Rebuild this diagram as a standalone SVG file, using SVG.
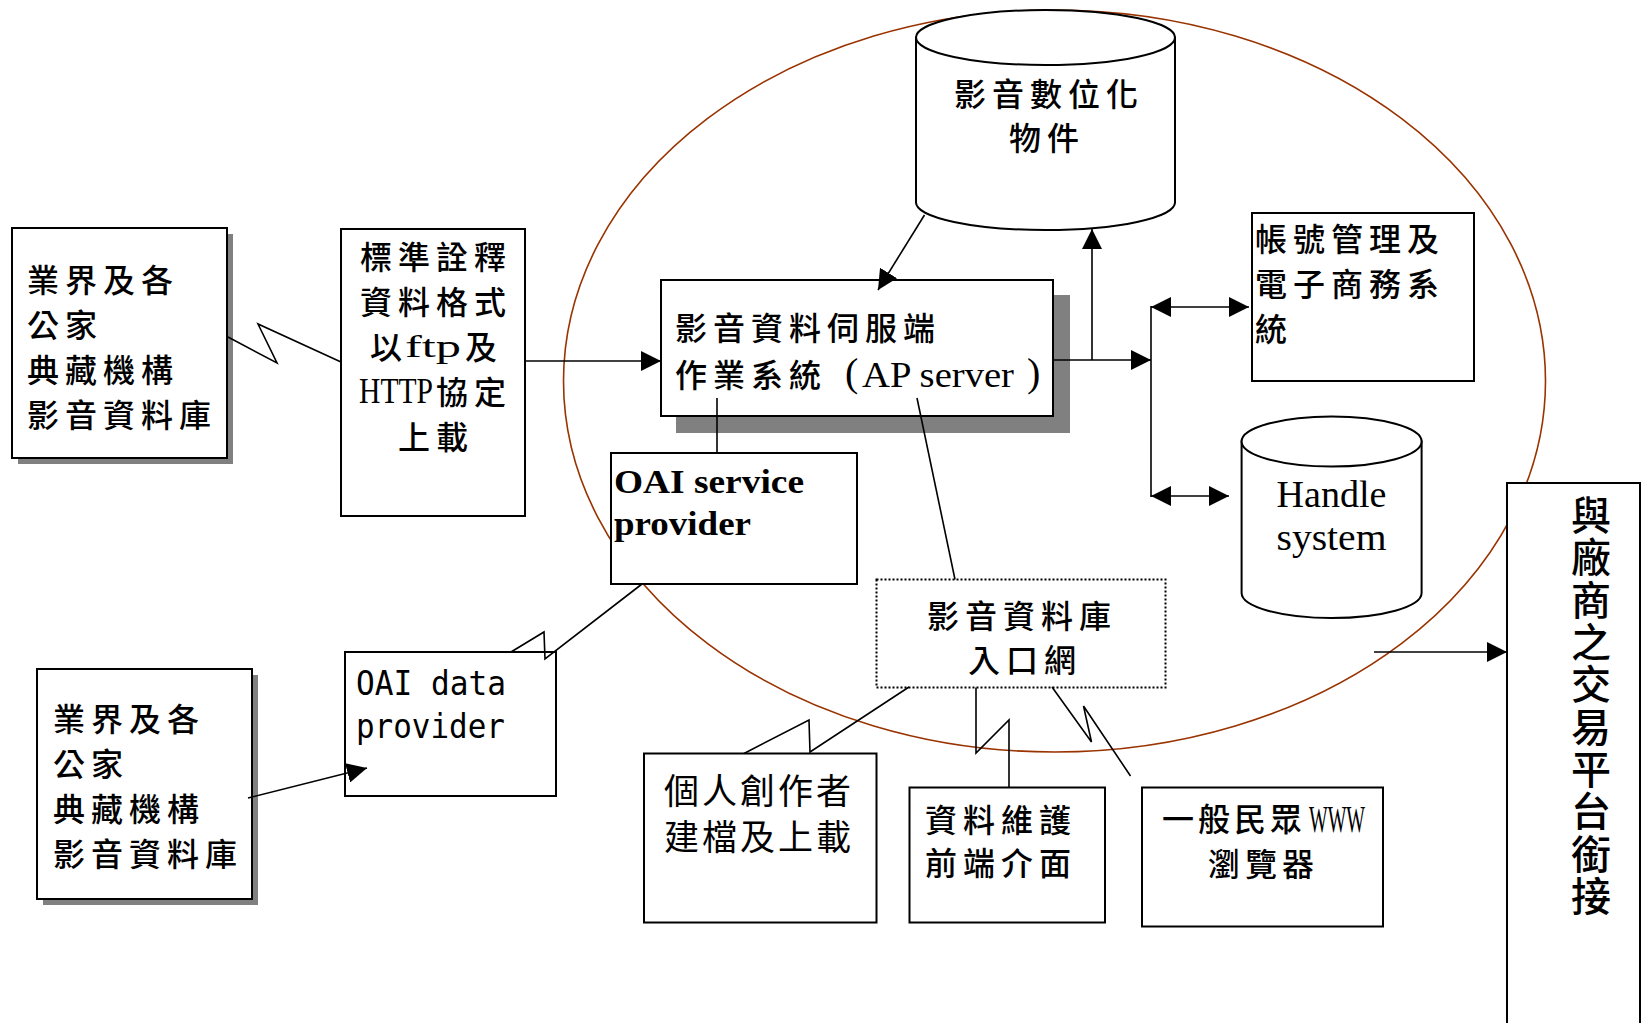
<svg xmlns="http://www.w3.org/2000/svg" width="1642" height="1023" viewBox="0 0 1642 1023">
<style>
.box{fill:#fff;stroke:#000;stroke-width:2}
.dot{fill:#fff;stroke:#000;stroke-width:2;stroke-dasharray:2 2}
.shadow{fill:#808080}
.ln{fill:none;stroke:#000;stroke-width:1.6}
.cj{font-family:"Noto Sans CJK TC","Noto Sans CJK SC",sans-serif;font-size:32px;font-weight:500;letter-spacing:6px;fill:#000}
.lat{font-family:"Liberation Serif",serif;fill:#000}
.mono{font-family:"DejaVu Sans Mono",monospace;fill:#000}
</style>
<defs>
<marker id="ah" viewBox="0 0 20 20" refX="20" refY="10" markerWidth="20" markerHeight="20" markerUnits="userSpaceOnUse" orient="auto-start-reverse"><path d="M0,0 L20,10 L0,20 z" fill="#000"/></marker>
</defs>
<rect width="1642" height="1023" fill="#fff"/>
<ellipse id="boundary" cx="1054.5" cy="381" rx="491" ry="371" fill="none" stroke="#993300" stroke-width="1.6"/>

<g id="inst-top">
<rect class="shadow" x="18" y="234" width="215" height="230"/>
<rect class="box" x="12" y="228" width="215" height="230"/>
<text class="cj" x="27" y="292">業界及各</text>
<text class="cj" x="27" y="337">公家</text>
<text class="cj" x="27" y="382">典藏機構</text>
<text class="cj" x="27" y="427">影音資料庫</text>
</g>

<g id="metadata-upload">
<rect class="box" x="341" y="229" width="184" height="287"/>
<text class="cj" x="436" y="269" text-anchor="middle">標準詮釋</text>
<text class="cj" x="436" y="314" text-anchor="middle">資料格式</text>
<text class="cj" x="370" y="359">以</text>
<text class="lat" x="405" y="357" font-size="32" textLength="56" lengthAdjust="spacingAndGlyphs">ftp</text>
<text class="cj" x="465" y="359">及</text>
<text class="lat" x="359" y="403" font-size="36" textLength="74" lengthAdjust="spacingAndGlyphs">HTTP</text>
<text class="cj" x="436" y="404">協定</text>
<text class="cj" x="436" y="449" text-anchor="middle">上載</text>
</g>

<g id="ap-server">
<rect class="shadow" x="676" y="295" width="394" height="138"/>
<rect class="box" x="661" y="280" width="392" height="136"/>
<text class="cj" x="675" y="340">影音資料伺服端</text>
<text class="cj" x="675" y="387">作業系統</text>
<text class="lat" x="845" y="386" font-size="40">(</text>
<text class="lat" x="862" y="387" font-size="36" textLength="152" lengthAdjust="spacingAndGlyphs">AP server</text>
<text class="lat" x="1027" y="386" font-size="40">)</text>
</g>

<g id="digital-objects">
<path class="box" d="M916,37.5 V202.5 A129.5,27.5 0 0 0 1175,202.5 V37.5 Z"/>
<ellipse class="box" cx="1045.5" cy="37.5" rx="129.5" ry="27.5"/>
<text class="cj" x="954" y="106">影音數位化</text>
<text class="cj" x="1009" y="150">物件</text>
</g>

<g id="account-ecommerce">
<rect class="box" x="1252" y="213" width="222" height="168"/>
<text class="cj" x="1255" y="251">帳號管理及</text>
<text class="cj" x="1255" y="296">電子商務系</text>
<text class="cj" x="1255" y="341">統</text>
</g>

<g id="handle-system">
<path class="box" d="M1241.6,441.5 V593 A90,25 0 0 0 1421.6,593 V441.5 Z"/>
<ellipse class="box" cx="1331.6" cy="441.5" rx="90" ry="25"/>
<text class="lat" x="1276.5" y="507" font-size="38" textLength="110" lengthAdjust="spacingAndGlyphs">Handle</text>
<text class="lat" x="1276.5" y="550" font-size="38" textLength="110" lengthAdjust="spacingAndGlyphs">system</text>
</g>

<g id="vendor-platform">
<rect class="box" x="1507" y="483" width="133" height="560"/>
<text class="cj" style="font-size:40px;letter-spacing:0" text-anchor="middle" x="1591 1591 1591 1591 1591 1591 1591 1591 1591 1591" y="530 572 615 657 699 742 784 826 869 911">與廠商之交易平台銜接</text>
</g>

<g id="oai-service-provider">
<rect class="box" x="611" y="453" width="246" height="131"/>
<text class="lat" x="614" y="493" font-size="34" font-weight="bold" textLength="190" lengthAdjust="spacingAndGlyphs">OAI service</text>
<text class="lat" x="614" y="535" font-size="34" font-weight="bold" textLength="137" lengthAdjust="spacingAndGlyphs">provider</text>
</g>

<g id="portal">
<rect class="dot" x="876.5" y="579.5" width="289" height="108"/>
<text class="cj" x="927" y="628">影音資料庫</text>
<text class="cj" x="968" y="672">入口網</text>
</g>

<g id="oai-data-provider">
<rect class="box" x="345" y="652" width="211" height="144"/>
<text class="mono" x="356" y="695" font-size="34" textLength="150" lengthAdjust="spacingAndGlyphs">OAI data</text>
<text class="mono" x="356" y="738" font-size="34" textLength="149" lengthAdjust="spacingAndGlyphs">provider</text>
</g>

<g id="inst-bottom">
<rect class="shadow" x="43" y="675" width="215" height="230"/>
<rect class="box" x="37" y="669" width="215" height="230"/>
<text class="cj" x="53" y="731">業界及各</text>
<text class="cj" x="53" y="776">公家</text>
<text class="cj" x="53" y="821">典藏機構</text>
<text class="cj" x="53" y="866">影音資料庫</text>
</g>

<g id="creator-upload">
<rect class="box" x="644" y="753.5" width="232.5" height="169"/>
<text class="cj" style="font-size:35px;letter-spacing:3px;font-weight:400" x="664" y="804">個人創作者</text>
<text class="cj" style="font-size:35px;letter-spacing:3px;font-weight:400" x="664" y="850">建檔及上載</text>
</g>

<g id="maintenance-ui">
<rect class="box" x="909.5" y="787.5" width="195.5" height="135"/>
<text class="cj" x="925" y="832">資料維護</text>
<text class="cj" x="925" y="875">前端介面</text>
</g>

<g id="www-browser">
<rect class="box" x="1142" y="787.5" width="241" height="139"/>
<text class="cj" style="letter-spacing:4px" x="1162" y="831">一般民眾</text>
<text class="lat" x="1309" y="832" font-size="38" textLength="56" lengthAdjust="spacingAndGlyphs">WWW</text>
<text class="cj" style="letter-spacing:5px" x="1208" y="876">瀏覽器</text>
</g>

<g id="connectors">
<polyline class="ln" points="228,337 277,363 258,324 341,362"/>
<line class="ln" x1="525" y1="361" x2="661" y2="361" marker-end="url(#ah)"/>
<line class="ln" x1="924.5" y1="215" x2="878" y2="290" marker-end="url(#ah)"/>
<line class="ln" x1="1053" y1="360" x2="1151" y2="360" marker-end="url(#ah)"/>
<line class="ln" x1="1092" y1="360" x2="1092" y2="229" marker-end="url(#ah)"/>
<line class="ln" x1="1151" y1="306" x2="1151" y2="497"/>
<line class="ln" x1="1151" y1="307" x2="1249" y2="307" marker-start="url(#ah)" marker-end="url(#ah)"/>
<line class="ln" x1="1151" y1="496" x2="1229" y2="496" marker-start="url(#ah)" marker-end="url(#ah)"/>
<line class="ln" x1="717" y1="398" x2="717" y2="453"/>
<line class="ln" x1="917" y1="398" x2="955" y2="579.5"/>
<polyline class="ln" points="642,584 545,659 544,632 511,652"/>
<line class="ln" x1="248" y1="798" x2="367" y2="768" marker-end="url(#ah)"/>
<polyline class="ln" points="909,687 810,752 809,720 744,753.5"/>
<polyline class="ln" points="976,687.5 976,753 1009,720 1009,787.5"/>
<polyline class="ln" points="1052,687 1091.5,742 1083.5,706 1130.5,776"/>
<line class="ln" x1="1374" y1="652" x2="1507" y2="652" marker-end="url(#ah)"/>
</g>
</svg>
